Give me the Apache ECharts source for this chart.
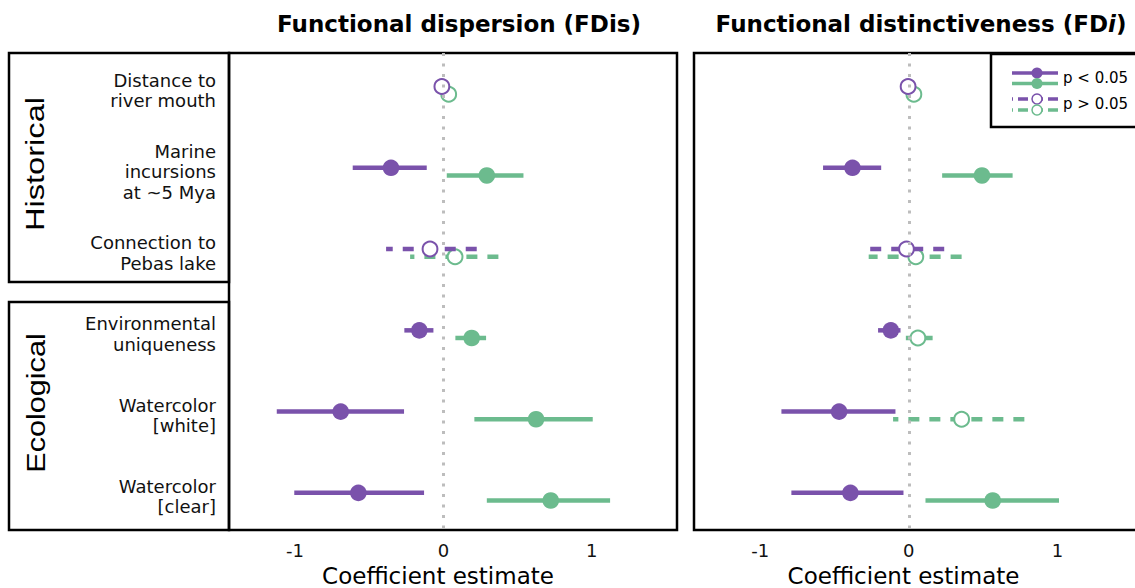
<!DOCTYPE html>
<html>
<head>
<meta charset="utf-8">
<script src="https://cdn.jsdelivr.net/npm/echarts@6/dist/echarts.min.js"></script>
<style>
  html, body { margin: 0; padding: 0; background: #fff; }
  #chart { width: 1135px; height: 588px; }
</style>
</head>
<body>
<div id="chart"></div>
<script>
// Predictors, top to bottom
const rowLabels = [
  'Distance to\nriver mouth',
  'Marine\nincursions\nat ~5 Mya',
  'Connection to\nPebas lake',
  'Environmental\nuniqueness',
  'Watercolor\n[white]',
  'Watercolor\n[clear]'
];
const groupLabels = ['Historical', 'Ecological'];
const xTicks = [-1, 0, 1];
const panelTitles = ['Functional dispersion (FDis)', 'Functional distinctiveness (FD{it|i})'];
const legendLabels = ['p < 0.05', 'p > 0.05'];

// Functional dispersion (FDis): estimate, CI bounds, significance (1 = p < 0.05)
const fdisPurpleEst = [-0.010, -0.353, -0.090, -0.162, -0.692, -0.573];
const fdisPurpleLo  = [-0.040, -0.611, -0.386, -0.263, -1.123, -1.005];
const fdisPurpleHi  = [ 0.020, -0.112,  0.225, -0.067, -0.265, -0.130];
const fdisPurpleSig = [0, 1, 0, 1, 1, 1];
const fdisGreenEst  = [ 0.036,  0.293,  0.079,  0.191,  0.625,  0.724];
const fdisGreenLo   = [ 0.005,  0.023, -0.224,  0.081,  0.209,  0.293];
const fdisGreenHi   = [ 0.065,  0.540,  0.371,  0.288,  1.007,  1.124];
const fdisGreenSig  = [0, 1, 0, 1, 1, 1];

// Functional distinctiveness (FDi)
const fdiPurpleEst = [-0.005, -0.379, -0.016, -0.121, -0.469, -0.393];
const fdiPurpleLo  = [-0.035, -0.577, -0.263, -0.207, -0.857, -0.790];
const fdiPurpleHi  = [ 0.025, -0.186,  0.238, -0.056, -0.090, -0.036];
const fdiPurpleSig = [0, 1, 0, 1, 1, 1];
const fdiGreenEst  = [ 0.034,  0.492,  0.047,  0.061,  0.355,  0.564];
const fdiGreenLo   = [ 0.004,  0.224, -0.270, -0.020, -0.106,  0.112];
const fdiGreenHi   = [ 0.064,  0.698,  0.355,  0.160,  0.777,  1.010];
const fdiGreenSig  = [0, 1, 0, 0, 0, 1];

const PURPLE = '#7a52ab';
const GREEN = '#6cbb8e';
const FONT = 'DejaVu Sans';

function rows(est, lo, hi, sig) {
  return est.map((e, i) => [e, lo[i], hi[i], i + 1, sig[i]]);
}

// Point estimate with confidence interval; dashed + open circle when not significant
function intervalSeries(panel, color, dodge, data) {
  return {
    type: 'custom',
    xAxisIndex: panel,
    yAxisIndex: panel,
    data: data,
    encode: { x: [0, 1, 2], y: 3 },
    renderItem: function (params, api) {
      const est = api.value(0), lo = api.value(1), hi = api.value(2);
      const y = api.value(3) + dodge;
      const sig = api.value(4) === 1;
      const pHi = api.coord([hi, y]);
      const pLo = api.coord([lo, y]);
      const pE = api.coord([est, y]);
      return {
        type: 'group',
        children: [
          {
            type: 'line',
            shape: { x1: pHi[0], y1: pHi[1], x2: pLo[0], y2: pLo[1] },
            style: { stroke: color, lineWidth: 4.5, lineDash: sig ? null : [11, 10] }
          },
          sig
            ? { type: 'circle', shape: { cx: pE[0], cy: pE[1], r: 8.3 }, style: { fill: color } }
            : { type: 'circle', shape: { cx: pE[0], cy: pE[1], r: 7.4 }, style: { fill: '#fff', stroke: color, lineWidth: 2 } }
        ]
      };
    }
  };
}

function zeroLine(panel) {
  return {
    type: 'custom',
    xAxisIndex: panel,
    yAxisIndex: panel,
    data: [],
    renderItem: function () { return null; },
    markLine: {
      silent: true,
      symbol: ['none', 'none'],
      label: { show: false },
      lineStyle: { color: '#bdbdbd', width: 3, type: [3, 7.5] },
      data: [{ xAxis: 0 }]
    },
    z: 1
  };
}

// the right panel runs past the page edge, so its frame is cut off there
const grids = [
  { left: 229, top: 53, width: 448, height: 477 },
  { left: 694, top: 53, width: 449, height: 477 }
];

const chart = echarts.init(document.getElementById('chart'), null, { renderer: 'svg' });

const option = {
  animation: false,
  backgroundColor: '#fff',
  grid: grids.map(g => Object.assign({
    show: true, borderColor: '#000', borderWidth: 2.5, backgroundColor: 'transparent',
    outerBoundsMode: 'none', containLabel: false
  }, g)),
  xAxis: [0, 1].map(i => ({
    type: 'value',
    gridIndex: i,
    min: -1.445,
    max: 1.575,
    splitLine: { show: false },
    axisLine: { show: false },
    axisTick: { show: false },
    axisLabel: { customValues: xTicks, fontFamily: FONT, fontSize: 18, color: '#111', margin: 11 },
    name: 'Coefficient estimate',
    nameLocation: 'middle',
    nameGap: 34,
    nameTextStyle: { fontFamily: FONT, fontSize: 23, color: '#000', padding: [0, 30, 0, 0] }
  })),
  yAxis: [0, 1].map(i => ({
    type: 'value',
    gridIndex: i,
    inverse: true,
    min: 0.54,
    max: 6.41,
    splitLine: { show: false },
    axisLine: { show: false },
    axisTick: { show: false },
    axisLabel: i === 0 ? {
      customValues: rowLabels.map((_, k) => k + 1),
      formatter: v => rowLabels[Math.round(v) - 1],
      fontFamily: FONT,
      fontSize: 18,
      lineHeight: 20.5,
      color: '#111',
      align: 'right',
      margin: 13
    } : { show: false }
  })),
  series: [
    zeroLine(0),
    zeroLine(1),
    intervalSeries(0, GREEN, 0.047, rows(fdisGreenEst, fdisGreenLo, fdisGreenHi, fdisGreenSig)),
    intervalSeries(0, PURPLE, -0.047, rows(fdisPurpleEst, fdisPurpleLo, fdisPurpleHi, fdisPurpleSig)),
    intervalSeries(1, GREEN, 0.047, rows(fdiGreenEst, fdiGreenLo, fdiGreenHi, fdiGreenSig)),
    intervalSeries(1, PURPLE, -0.047, rows(fdiPurpleEst, fdiPurpleLo, fdiPurpleHi, fdiPurpleSig))
  ],
  graphic: [
    // panel titles
    {
      type: 'text', x: 459, y: 24, z: 10,
      style: { text: panelTitles[0], font: 'bold 23px "DejaVu Sans"', fill: '#000', align: 'center', verticalAlign: 'middle' }
    },
    {
      type: 'text', x: 921, y: 24, z: 10,
      style: {
        text: panelTitles[1], font: 'bold 23px "DejaVu Sans"', fill: '#000', align: 'center', verticalAlign: 'middle',
        rich: { it: { fontStyle: 'italic', fontWeight: 'bold', fontSize: 23, fontFamily: FONT } }
      }
    },
    // group boxes
    { type: 'rect', shape: { x: 9, y: 53, width: 220, height: 229 }, style: { fill: 'none', stroke: '#000', lineWidth: 2.5 }, z: 10 },
    { type: 'rect', shape: { x: 9, y: 302, width: 220, height: 228 }, style: { fill: 'none', stroke: '#000', lineWidth: 2.5 }, z: 10 },
    {
      type: 'text', x: 34.5, y: 164, rotation: Math.PI / 2, scaleX: 1.28, z: 10,
      style: { text: groupLabels[0], font: '25.5px "Liberation Sans"', fill: '#000', align: 'center', verticalAlign: 'middle' }
    },
    {
      type: 'text', x: 36, y: 403, rotation: Math.PI / 2, scaleX: 1.2, z: 10,
      style: { text: groupLabels[1], font: '25.5px "Liberation Sans"', fill: '#000', align: 'center', verticalAlign: 'middle' }
    },
    // legend
    { type: 'rect', shape: { x: 991, y: 54, width: 170, height: 73 }, style: { fill: '#fff', stroke: '#000', lineWidth: 2.5 }, z: 20 },
    { type: 'line', shape: { x1: 1012, y1: 73, x2: 1058, y2: 73 }, style: { stroke: PURPLE, lineWidth: 3.5 }, z: 21 },
    { type: 'circle', shape: { cx: 1037, cy: 73, r: 5.5 }, style: { fill: PURPLE }, z: 22 },
    { type: 'line', shape: { x1: 1012, y1: 83.5, x2: 1058, y2: 83.5 }, style: { stroke: GREEN, lineWidth: 3.5 }, z: 21 },
    { type: 'circle', shape: { cx: 1037, cy: 83.5, r: 5.5 }, style: { fill: GREEN }, z: 22 },
    { type: 'line', shape: { x1: 1058, y1: 99, x2: 1012, y2: 99 }, style: { stroke: PURPLE, lineWidth: 3.5, lineDash: [10, 5] }, z: 21 },
    { type: 'circle', shape: { cx: 1037, cy: 99, r: 5 }, style: { fill: '#fff', stroke: PURPLE, lineWidth: 1.5 }, z: 22 },
    { type: 'line', shape: { x1: 1058, y1: 110, x2: 1012, y2: 110 }, style: { stroke: GREEN, lineWidth: 3.5, lineDash: [10, 5] }, z: 21 },
    { type: 'circle', shape: { cx: 1037, cy: 110, r: 5 }, style: { fill: '#fff', stroke: GREEN, lineWidth: 1.5 }, z: 22 },
    { type: 'text', x: 1063, y: 78, z: 22, style: { text: legendLabels[0], font: '15px "DejaVu Sans"', fill: '#000', verticalAlign: 'middle' } },
    { type: 'text', x: 1063, y: 104, z: 22, style: { text: legendLabels[1], font: '15px "DejaVu Sans"', fill: '#000', verticalAlign: 'middle' } }
  ]
};

chart.setOption(option);
</script>
</body>
</html>
